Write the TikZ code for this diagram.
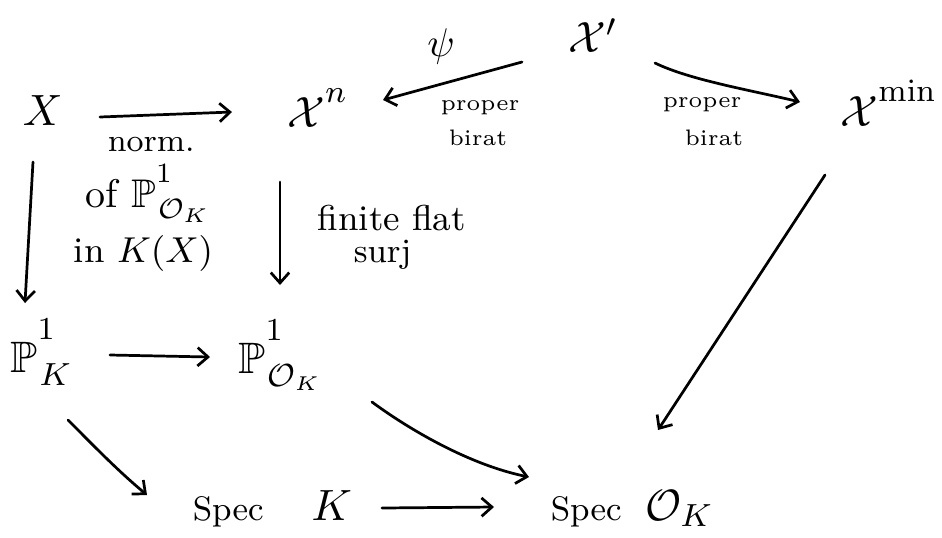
\documentclass[tikz,border=0pt]{standalone}
\usepackage{amssymb}
\usetikzlibrary{arrows.meta}
\newcommand{\myupsup}[2][2.2pt]{^{\raisebox{#1}{$\scriptstyle #2$}}}
\tikzset{
  big/.style={inner sep=0pt, anchor=base west, font=\fontsize{11}{12}\selectfont},
  lab/.style={inner sep=0pt, anchor=base west, font=\fontsize{6.5}{8}\selectfont},
  arr/.style={line width=0.68pt, line cap=round,
    -{Straight Barb[length=2.6pt,width=4.6pt,line width=0.68pt]}},
}
\begin{document}
\begin{tikzpicture}[x=0.25pt,y=-0.25pt]
\useasboundingbox (0,0) rectangle (942,537);
% main objects
\node[big] (X)      at (22,125)  {$X$};
\node[big] (Xn)     at (287,127) {$\mathcal{X}\myupsup{n}$};
\node[big] (Xp)     at (568,52)  {$\mathcal{X}'$};
\node[big] (Xmin)   at (840,126) {$\mathcal{X}\myupsup{\min}$};
\node[big] (PK)     at (10,372)  {$\mathbb{P}\myupsup[4.2pt]{1}_{\hspace{0.5pt}K}$};
\node[big] (POK)    at (238,373) {$\mathbb{P}\myupsup[4.2pt]{1}_{\hspace{0.5pt}\mathcal{O}_K}$};
\node[big] (SpecK)  at (192,520) {{\fontsize{8.5}{10}\selectfont Spec}\hspace{12pt}$K$};
\node[big] (SpecOK) at (550,520) {{\fontsize{8.5}{10}\selectfont Spec}\hspace{6pt}$\mathcal{O}_{K}$};
% labels
\node[lab, font=\fontsize{10}{11}\selectfont, anchor=center] (psi) at (441,46) {$\psi$};
\node[lab, font=\fontsize{5.6}{7}\selectfont] (lp1) at (440,110) {proper};
\node[lab, font=\fontsize{5.6}{7}\selectfont] (lp2) at (448,145) {birat};
\node[lab, font=\fontsize{5.6}{7}\selectfont] (rp1) at (662,107) {proper};
\node[lab, font=\fontsize{5.6}{7}\selectfont] (rp2) at (684,145) {birat};
\node[lab, font=\fontsize{8}{9}\selectfont] (n1) at (107,151) {norm.};
\node[lab, font=\fontsize{10}{11}\selectfont] (n2) at (85,207) {of $\mathbb{P}\myupsup[2.6pt]{1}_{\hspace{0.5pt}\mathcal{O}_K}$};
\node[lab, font=\fontsize{9}{10}\selectfont] (n3) at (73,262) {in $K(X)$};
\node[lab, font=\fontsize{9}{10}\selectfont] (f1) at (317,230) {finite flat};
\node[lab, font=\fontsize{8.5}{9.5}\selectfont] (f2) at (353,262) {surj};
% arrows
\draw[arr] ([shift={(78,-8)}]X.base west) -- ([shift={(-55,-15)}]Xn.base west);
\draw[arr] ([shift={(-46,10)}]Xp.base west) -- ([shift={(96,-27)}]Xn.base west);
\draw[arr] ([shift={(87,11)}]Xp.base west) .. controls +(35,17) and +(-50,-12) .. ([shift={(-40,-24)}]Xmin.base west);
\draw[arr] ([shift={(11,37)}]X.base west) -- ([shift={(15,-69)}]PK.base west);
\draw[arr] ([shift={(-7,55)}]Xn.base west) -- ([shift={(42,-88)}]POK.base west);
\draw[arr] ([shift={(100,-17)}]PK.base west) -- ([shift={(-28,-16)}]POK.base west);
\draw[arr] ([shift={(58,48)}]PK.base west) .. controls +(25,25) and +(-30,-25) .. ([shift={(-45,-25)}]SpecK.base west);
\draw[arr] ([shift={(134,29)}]POK.base west) .. controls +(38,28) and +(-59,-12) .. ([shift={(-21,-43)}]SpecOK.base west);
\draw[arr] ([shift={(190,-12)}]SpecK.base west) -- ([shift={(-56,-13)}]SpecOK.base west);
\draw[arr] ([shift={(-15,49)}]Xmin.base west) -- ([shift={(108,-90)}]SpecOK.base west);
\end{tikzpicture}
\end{document}
